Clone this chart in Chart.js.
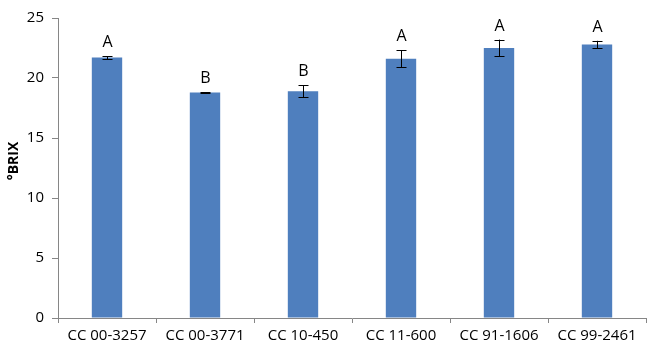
<!DOCTYPE html>
<html><head><meta charset="utf-8">
<script src="https://cdn.jsdelivr.net/npm/chart.js@4.4.1/dist/chart.umd.min.js"></script>
<style>html,body{margin:0;padding:0;background:#fff}#wrap{width:650px;height:345px;position:relative}</style>
</head><body><div id="wrap"><canvas id="c" width="650" height="345"></canvas></div>
<script>
const categories = ["CC 00-3257","CC 00-3771","CC 10-450","CC 11-600","CC 91-1606","CC 99-2461"];
const brixValues = [21.7, 18.8, 18.9, 21.6, 22.5, 22.8];
const brixErrors = [0.12, 0.03, 0.5, 0.7, 0.7, 0.3];
const groupLetters = ["A","B","B","A","A","A"];
const yTicks = [0, 5, 10, 15, 20, 25];

const FONT = "'Open Sans', 'Liberation Sans', sans-serif";
const AXIS = '#868686';

const errPlugin = {
  id: 'errLetters',
  afterDatasetsDraw(chart) {
    const ctx = chart.ctx, x = chart.scales.x, y = chart.scales.y;
    ctx.save();
    ctx.strokeStyle = '#000'; ctx.lineWidth = 1;
    brixValues.forEach((v, i) => {
      const cx = Math.round(x.getPixelForValue(i)) + 0.5;
      const top = y.getPixelForValue(v + brixErrors[i]);
      const bot = y.getPixelForValue(v - brixErrors[i]);
      ctx.beginPath();
      ctx.moveTo(cx, top); ctx.lineTo(cx, bot);
      ctx.moveTo(cx - 5, Math.round(top) + 0.5); ctx.lineTo(cx + 5, Math.round(top) + 0.5);
      ctx.moveTo(cx - 5, Math.round(bot) + 0.5); ctx.lineTo(cx + 5, Math.round(bot) + 0.5);
      ctx.stroke();
      ctx.fillStyle = '#000';
      ctx.font = '16px ' + FONT;
      ctx.textAlign = 'center'; ctx.textBaseline = 'alphabetic';
      ctx.fillText(groupLetters[i], cx, top - 9);
    });
    ctx.restore();
  }
};

const titlePlugin = {
  id: 'ytitle',
  afterDraw(chart) {
    const ctx = chart.ctx, y = chart.scales.y;
    ctx.save();
    ctx.translate(14, 161);
    ctx.rotate(-Math.PI / 2);
    ctx.fillStyle = '#000';
    ctx.font = 'bold 14px ' + FONT;
    ctx.textAlign = 'center'; ctx.textBaseline = 'middle';
    ctx.fillText('°BRIX', 0, 0);
    ctx.restore();
  }
};

new Chart(document.getElementById('c'), {
  type: 'bar',
  data: {
    labels: categories,
    datasets: [{ data: brixValues, backgroundColor: '#4F7FBE', borderWidth: 0, categoryPercentage: 1, barPercentage: 0.31 }]
  },
  options: {
    responsive: false, animation: false,
    layout: { padding: { top: 18, right: 4, left: 0, bottom: 0 } },
    plugins: { legend: { display: false }, tooltip: { enabled: false } },
    scales: {
      x: {
        grid: { drawOnChartArea: false, offset: true, tickLength: 5, color: AXIS, tickColor: AXIS },
        border: { color: AXIS, width: 1 },
        ticks: { color: '#000', font: { family: FONT, size: 15 }, padding: 4, maxRotation: 0, autoSkip: false },
        afterFit(s) { s.height = 27; }
      },
      y: {
        min: 0, max: 25,
        afterBuildTicks(s) { s.ticks = yTicks.map(v => ({ value: v })); },
        grid: { drawOnChartArea: false, tickLength: 6, color: AXIS, tickColor: AXIS },
        border: { color: AXIS, width: 1 },
        ticks: { color: '#000', font: { family: FONT, size: 15 }, padding: 8 },
        afterFit(s) { s.width = 58; }
      }
    }
  },
  plugins: [errPlugin, titlePlugin]
});
</script></body></html>
